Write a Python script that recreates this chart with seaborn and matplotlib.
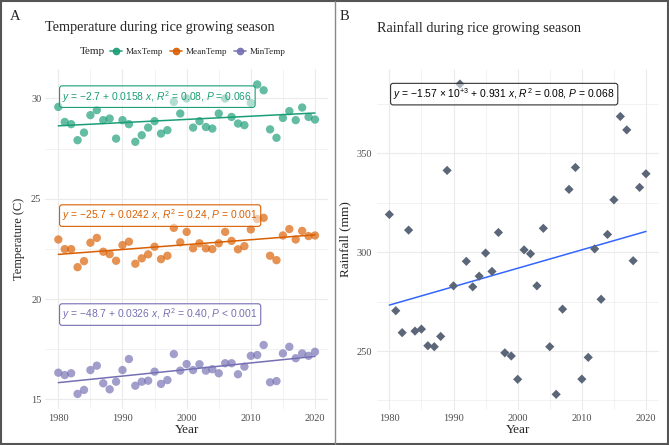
import numpy as np
import pandas as pd
import matplotlib
matplotlib.use("Agg")
import matplotlib.pyplot as plt
from matplotlib.lines import Line2D
import seaborn as sns

# ---------------- data ----------------
years = list(range(1980, 2021))
max_temp = [29.58, 28.83, 28.72, 27.92, 28.30, 29.17, 29.42, 28.92, 29.00, 28.00,
            28.92, 28.72, 27.84, 28.17, 28.55, 28.87, 28.25, 28.42, 29.83, 29.25,
            30.00, 28.55, 28.87, 28.58, 28.50, 29.25, 30.00, 29.08, 28.75, 28.67,
            29.78, 30.70, 30.41, 28.46, 28.04, 29.03, 29.37, 28.92, 29.55, 29.08, 28.95]
mean_temp = [22.97, 22.49, 22.49, 21.59, 21.89, 22.81, 23.05, 22.36, 22.24, 21.91,
             22.69, 22.86, 21.76, 22.03, 22.23, 22.61, 21.99, 22.16, 23.55, 22.83,
             23.35, 22.53, 22.78, 22.53, 22.49, 22.78, 23.35, 22.90, 22.48, 22.64,
             23.47, 23.99, 24.05, 22.16, 21.94, 23.17, 23.49, 22.97, 23.40, 23.14, 23.17]
min_temp = [16.33, 16.21, 16.30, 15.27, 15.47, 16.46, 16.68, 15.80, 15.50, 15.88,
            16.46, 17.01, 15.68, 15.88, 15.93, 16.38, 15.77, 15.96, 17.26, 16.43,
            16.76, 16.46, 16.75, 16.43, 16.50, 16.30, 16.80, 16.80, 16.25, 16.63,
            17.17, 17.21, 17.71, 15.85, 15.91, 17.29, 17.62, 17.05, 17.29, 17.17, 17.37]
rainfall = [319.1, 270.4, 259.3, 311.2, 260.1, 261.1, 252.7, 252.2, 257.4, 341.4,
            283.0, 385.1, 295.4, 282.5, 287.9, 299.6, 290.3, 310.0, 249.1, 247.5,
            235.7, 301.2, 299.2, 283.0, 312.1, 252.2, 228.1, 271.2, 331.8, 342.9,
            235.8, 246.8, 301.7, 276.2, 309.0, 326.5, 368.7, 361.9, 295.7, 332.8, 339.7]

series_names = ["MaxTemp", "MeanTemp", "MinTemp"]
series_colors = ["#1B9E77", "#D95F02", "#7570B3"]
eq_labels = [
    r"$\mathit{y}$ = $-$2.7 + 0.0158 $\mathit{x}$, $\mathit{R}^2$ = 0.08, $\mathit{P}$ = 0.066",
    r"$\mathit{y}$ = $-$25.7 + 0.0242 $\mathit{x}$, $\mathit{R}^2$ = 0.24, $\mathit{P}$ = 0.001",
    r"$\mathit{y}$ = $-$48.7 + 0.0326 $\mathit{x}$, $\mathit{R}^2$ = 0.40, $\mathit{P}$ < 0.001",
]
rain_label = (r"$\mathit{y}$ = $-$1.57 $\times$ 10$^{+3}$ + 0.931 $\mathit{x}$, "
              r"$\mathit{R}^2$ = 0.08, $\mathit{P}$ = 0.068")

temp_df = pd.DataFrame({
    "Year": years * 3,
    "Value": max_temp + mean_temp + min_temp,
    "Temp": [n for n in series_names for _ in years],
})
rain_df = pd.DataFrame({"Year": years, "Rainfall": rainfall})

# ---------------- style ----------------
sns.set_theme(style="white")
plt.rcParams["font.family"] = ["Liberation Serif", "DejaVu Serif"]
plt.rcParams["mathtext.fontset"] = "custom"
plt.rcParams["mathtext.rm"] = "Liberation Sans"
plt.rcParams["mathtext.it"] = "Liberation Sans:italic"
plt.rcParams["mathtext.bf"] = "Liberation Sans:bold"
plt.rcParams["mathtext.sf"] = "Liberation Sans"

SANS = ["Liberation Sans", "DejaVu Sans"]
TICK_C = "#4D4D4D"
GRID_C = "#EBEBEB"

fig = plt.figure(figsize=(6.69, 4.45), dpi=100)
fig.patch.set_facecolor("white")

axA = fig.add_axes([0.068, 0.080, 0.422, 0.765])
axB = fig.add_axes([0.5628, 0.079, 0.422, 0.767])


def style_axes(ax, yticks, yminor):
    for s in ax.spines.values():
        s.set_visible(False)
    ax.set_xticks([1980, 1990, 2000, 2010, 2020])
    ax.set_xticks([1985, 1995, 2005, 2015], minor=True)
    ax.set_yticks(yticks)
    ax.set_yticks(yminor, minor=True)
    ax.grid(True, which="major", color=GRID_C, linewidth=0.8)
    ax.grid(True, which="minor", color=GRID_C, linewidth=0.45)
    ax.set_axisbelow(True)
    ax.tick_params(which="both", length=0, labelsize=7.5, labelcolor=TICK_C, pad=3)
    ax.set_xlim(1978, 2022)


def expand(vals, f=0.05):
    lo, hi = min(vals), max(vals)
    r = hi - lo
    return lo - f * r, hi + f * r


# ---------------- Panel A ----------------
style_axes(axA, [15, 20, 25, 30], [17.5, 22.5, 27.5])
axA.set_ylim(*expand(max_temp + mean_temp + min_temp))

sns.scatterplot(data=temp_df, x="Year", y="Value", hue="Temp",
                palette=dict(zip(series_names, series_colors)),
                s=36, alpha=0.68, edgecolor="none", legend=False, ax=axA, zorder=3)
for name, col in zip(series_names, series_colors):
    sub = temp_df[temp_df["Temp"] == name]
    sns.regplot(data=sub, x="Year", y="Value", scatter=False, ci=None,
                line_kws=dict(color=col, linewidth=1.1), ax=axA, truncate=True)

eq_y = [0.9187, 0.5693, 0.2786]
for lab, col, yy in zip(eq_labels, series_colors, eq_y):
    axA.text(0.06, yy, lab, transform=axA.transAxes, fontsize=7.4, color=col,
             family=SANS, va="center", ha="left", zorder=5,
             bbox=dict(boxstyle="round,pad=0.28,rounding_size=0.25",
                       fc=(1, 1, 1, 0.5), ec=col, lw=0.8))

axA.set_xlabel("Year", fontsize=9.5, labelpad=1)
axA.set_ylabel("Temperature (C)", fontsize=9, labelpad=4)

# ---------------- Panel B ----------------
style_axes(axB, [250, 300, 350], [225, 275, 325, 375])
axB.set_ylim(*expand(rainfall))
sns.scatterplot(data=rain_df, x="Year", y="Rainfall", marker="D", s=22,
                color="#5C6679", edgecolor="none", ax=axB, zorder=3)
sns.regplot(data=rain_df, x="Year", y="Rainfall", scatter=False, ci=None,
            line_kws=dict(color="#3366FF", linewidth=1.1), ax=axB, truncate=True)
axB.text(0.06, 0.925, rain_label, transform=axB.transAxes, fontsize=7.4,
         color="black", family=SANS, va="center", ha="left", zorder=5,
         bbox=dict(boxstyle="round,pad=0.28,rounding_size=0.25",
                   fc=(1, 1, 1, 0.5), ec="#333333", lw=0.8))
axB.set_xlabel("Year", fontsize=9.5, labelpad=1)
axB.set_ylabel("Rainfall (mm)", fontsize=9.5, labelpad=4)

# ---------------- titles / panel tags ----------------
fig.text(0.068, 1 - 28 / 445, "Temperature during rice growing season",
         fontsize=10.3, ha="left", va="center")
fig.text(0.5628, 1 - 28 / 445, "Rainfall during rice growing season",
         fontsize=10.3, ha="left", va="center")
fig.text(10 / 669, 1 - 17 / 445, "A", fontsize=10.5, ha="left", va="center")
fig.text(340 / 669, 1 - 17 / 445, "B", fontsize=10.5, ha="left", va="center")

# legend
fig.text(80 / 669, 1 - 52 / 445, "Temp", fontsize=8, ha="left", va="center")
handles = [Line2D([], [], color=c, marker="o", markersize=4.5, linewidth=1.2, alpha=0.9)
           for c in series_colors]
fig.legend(handles, series_names, loc="center left",
           bbox_to_anchor=(110 / 669, 1 - 52 / 445), ncol=3, frameon=False,
           fontsize=6.6, handlelength=1.3, handletextpad=0.45, columnspacing=0.7,
           borderaxespad=0, borderpad=0)

# frame around figure and divider
fig.add_artist(plt.Rectangle((0.0015, 0.002), 0.997, 0.996, transform=fig.transFigure,
                             fill=False, ec="#555555", lw=1.5))
fig.add_artist(Line2D([334.5 / 669, 334.5 / 669], [0.002, 0.998],
                      transform=fig.transFigure, color="#888888", lw=1.0))

fig.savefig("out.png", dpi=100, facecolor="white")
